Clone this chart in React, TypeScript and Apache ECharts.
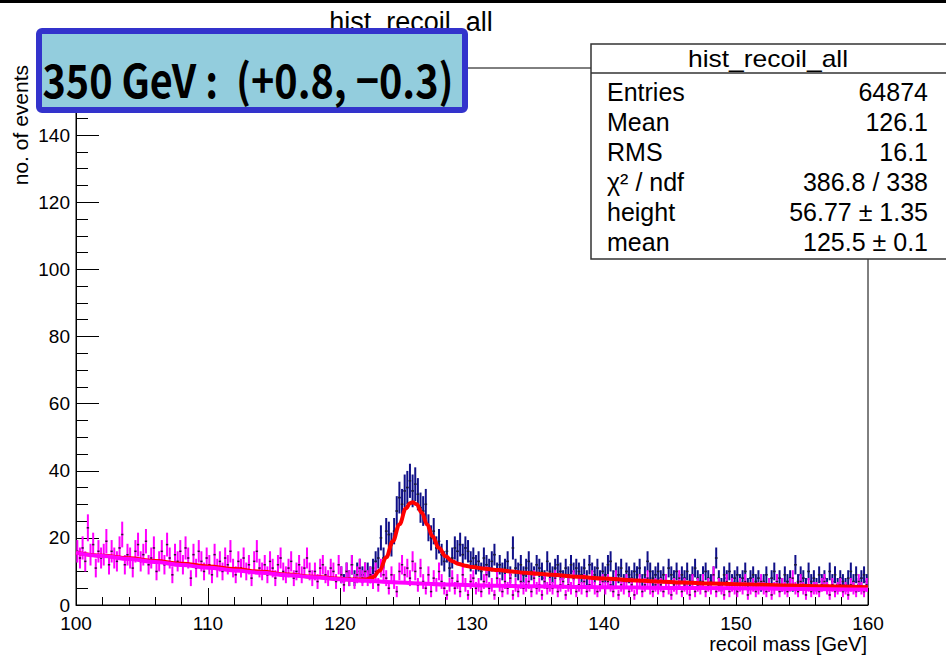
import React, { useEffect, useRef } from "react";
import * as echarts from "echarts";

// ---- histogram binning ----
const BIN_LO = 100;
const BIN_W = 0.2;
const ERR_SCALE = 0.7; // weighted entries: variance = N * w

// background-only histogram (magenta), 100 - 160 GeV, 0.2 GeV bins
const BKG_COUNTS = [
  16, 14, 17, 13, 23, 15, 18, 11, 16, 14,
  15, 19, 12, 16, 14, 13, 17, 21, 12, 15,
  14, 11, 16, 18, 13, 15, 19, 12, 14, 17,
  10, 13, 16, 12, 18, 14, 9, 15, 13, 16,
  12, 17, 14, 8, 15, 11, 16, 13, 10, 14,
  12, 9, 15, 11, 13, 10, 14, 12, 16, 11,
  9, 13, 11, 14, 10, 12, 8, 13, 16, 11,
  10, 12, 9, 13, 11, 8, 12, 14, 10, 9,
  11, 13, 8, 10, 12, 9, 11, 14, 10, 8,
  10, 7, 11, 12, 9, 8, 11, 10, 7, 12,
  9, 6, 10, 8, 12, 7, 9, 11, 8, 10,
  8, 9, 7, 10, 6, 11, 9, 8, 5, 9,
  7, 4, 10, 12, 9, 11, 8, 13, 10, 6,
  11, 7, 5, 9, 4, 8, 6, 10, 7, 5,
  3, 6, 8, 5, 7, 4, 9, 6, 3, 7,
  8, 5, 6, 4, 7, 9, 5, 6, 3, 8,
  6, 4, 7, 5, 8, 3, 6, 4, 7, 5,
  6, 7, 4, 8, 5, 6, 3, 7, 5, 6,
  5, 8, 4, 6, 7, 3, 6, 5, 8, 4,
  6, 5, 7, 4, 6, 8, 5, 4, 6, 7,
  5, 7, 6, 4, 8, 3, 6, 5, 7, 4,
  6, 3, 5, 7, 4, 6, 8, 5, 4, 6,
  5, 6, 4, 7, 5, 3, 6, 5, 8, 4,
  6, 5, 3, 7, 4, 6, 5, 7, 4, 6,
  5, 9, 4, 6, 5, 3, 7, 4, 6, 5,
  4, 6, 5, 7, 3, 5, 6, 4, 5, 7,
  5, 4, 6, 3, 5, 7, 4, 6, 5, 4,
  6, 8, 5, 4, 7, 5, 3, 6, 4, 5,
  5, 4, 6, 7, 5, 3, 6, 4, 5, 6,
  4, 5, 3, 6, 5, 4, 7, 5, 4, 6,
];

// full histogram (navy), shown from 120 GeV (below it coincides with background)
const ALL_LO = 120;
const ALL_COUNTS = [
  9, 7, 10, 8, 12, 8, 10, 11, 9, 10,
  10, 9, 11, 13, 14, 20, 14, 22, 21, 18,
  22, 28, 32, 30, 34, 35, 37, 34, 36, 33,
  29, 28, 30, 23, 20, 22, 17, 19, 15, 13,
  16, 11, 14, 17, 16, 18, 15, 17, 16, 13,
  14, 12, 13, 10, 14, 12, 11, 13, 15, 10,
  12, 10, 11, 13, 9, 17, 11, 10, 12, 9,
  11, 13, 10, 9, 12, 11, 10, 8, 13, 10,
  9, 11, 12, 10, 8, 11, 9, 12, 10, 11,
  10, 9, 11, 8, 12, 10, 9, 11, 8, 10,
  9, 12, 13, 8, 10, 9, 11, 7, 10, 9,
  8, 10, 9, 11, 7, 9, 13, 10, 8, 9,
  10, 8, 9, 7, 11, 9, 8, 10, 7, 9,
  8, 10, 7, 9, 11, 8, 7, 9, 10, 8,
  7, 9, 14, 8, 6, 9, 8, 10, 7, 8,
  9, 7, 8, 10, 6, 8, 9, 7, 8, 6,
  7, 9, 6, 8, 10, 7, 8, 6, 9, 7,
  8, 6, 12, 7, 9, 8, 6, 10, 7, 8,
  6, 9, 7, 8, 6, 10, 7, 9, 6, 8,
  7, 6, 8, 10, 7, 9, 6, 8, 9, 7,
];

// total fit (red)
const FIT_X = [100, 102, 104, 106, 108, 110, 112, 114, 116, 118, 120, 121, 122, 122.5, 123, 123.5, 124, 124.5, 125, 125.3, 125.5, 125.8, 126.2, 126.6, 127, 127.5, 128, 128.5, 129, 129.5, 130, 131, 132, 133, 134, 135, 136, 138, 140, 142, 144, 146, 148, 150, 152, 154, 156, 158, 160];
const FIT_TOTAL = [15.6, 14.7, 13.9, 13.1, 12.3, 11.5, 10.7, 9.9, 9.1, 8.4, 7.8, 7.6, 7.6, 8.3, 10.2, 14.2, 19.0, 24.0, 28.8, 30.3, 30.6, 30.0, 27.5, 24.0, 20.5, 17.0, 14.5, 13.0, 12.2, 11.7, 11.3, 10.8, 10.4, 10.0, 9.6, 9.3, 9.0, 8.4, 7.9, 7.4, 7.0, 6.7, 6.4, 6.2, 6.0, 5.8, 5.6, 5.5, 5.3];

// background fit (magenta)
const BKG_FIT_X = [100, 102, 104, 106, 108, 110, 112, 114, 116, 118, 120, 122, 124, 126, 128, 130, 132, 134, 136, 138, 140, 145, 150, 155, 160];
const BKG_FIT = [15.6, 14.6, 13.7, 12.8, 11.9, 11.1, 10.3, 9.6, 8.9, 8.3, 7.7, 7.2, 6.8, 6.4, 6.1, 5.9, 5.7, 5.6, 5.5, 5.4, 5.3, 5.1, 5.0, 4.8, 4.6];

const STATS_TITLE = "hist_recoil_all";
const STATS_LABELS = ["Entries", "Mean", "RMS", "χ² / ndf", "height", "mean"];
const STATS_VALUES = ["64874", "126.1", "16.1", "386.8 / 338", "56.77 ± 1.35", "125.5 ± 0.1"];
const BOX_TEXT = "350 GeV :  (+0.8, −0.3)";

const FONT = '"Liberation Sans", Arial, Helvetica, sans-serif';

function histData(lo: number, counts: number[]) {
  return counts.map((n, i) => [lo + (i + 0.5) * BIN_W, n, Math.sqrt(n * ERR_SCALE)]);
}

function errRenderer(color: string) {
  return (params: any, api: any) => {
    const x = api.value(0);
    const y = api.value(1);
    const e = api.value(2);
    const top = api.coord([x, y + e]);
    const bot = api.coord([x, y - e]);
    const l = api.coord([x - BIN_W / 2, y]);
    const r = api.coord([x + BIN_W / 2, y]);
    const c = api.coord([x, y]);
    return {
      type: "group",
      children: [
        { type: "line", shape: { x1: top[0], y1: top[1], x2: bot[0], y2: bot[1] }, style: { stroke: color, lineWidth: 2 } },
        { type: "line", shape: { x1: l[0], y1: l[1], x2: r[0], y2: r[1] }, style: { stroke: color, lineWidth: 1.5 } },
        { type: "rect", shape: { x: c[0] - 1, y: c[1] - 0.75, width: 2, height: 1.5 }, style: { fill: "#222" } },
      ],
    };
  };
}

function txt(x: number, y: number, text: string, size: number, align: string, extra: any = {}) {
  return {
    type: "text",
    x,
    y,
    z: 120,
    ...extra,
    style: {
      text,
      fontSize: size,
      fontFamily: FONT,
      fill: "#000",
      align,
      textAlign: align,
      verticalAlign: "middle",
      textVerticalAlign: "middle",
      ...(extra.style || {}),
    },
  };
}

export default function App() {
  const ref = useRef<HTMLDivElement>(null);
  useEffect(() => {
    if (!ref.current) return;
    const chart = echarts.init(ref.current, undefined, { renderer: "svg" });

    const statsRows: any[] = [];
    STATS_LABELS.forEach((lab, i) => {
      statsRows.push(txt(607, 92 + 30 * i, lab, 25, "left"));
      statsRows.push(txt(928, 92 + 30 * i, STATS_VALUES[i], 25, "right"));
    });

    chart.setOption({
      animation: false,
      backgroundColor: "#fff",
      grid: { left: 76, right: 78, top: 68, bottom: 50, show: true, borderColor: "#000", borderWidth: 1, backgroundColor: "transparent" },
      xAxis: {
        type: "value",
        min: 100,
        max: 160,
        interval: 10,
        axisLine: { show: true, lineStyle: { color: "#000", width: 1 } },
        axisTick: { show: true, inside: true, length: 17, lineStyle: { color: "#000", width: 1 } },
        minorTick: { show: true, splitNumber: 5, length: 8, lineStyle: { color: "#000", width: 1 } },
        splitLine: { show: false },
        axisLabel: { fontSize: 19, lineHeight: 17, fontFamily: FONT, color: "#000", margin: 10 },
      },
      yAxis: {
        type: "value",
        min: 0,
        max: 160,
        interval: 20,
        axisLine: { show: true, lineStyle: { color: "#000", width: 1 } },
        axisTick: { show: true, inside: true, length: 23, lineStyle: { color: "#000", width: 1 } },
        minorTick: { show: true, splitNumber: 4, length: 12, lineStyle: { color: "#000", width: 1 } },
        splitLine: { show: false },
        axisLabel: { fontSize: 19, lineHeight: 17, fontFamily: FONT, color: "#000", margin: 6 },
      },
      series: [
        {
          type: "custom",
          name: "all",
          clip: true,
          renderItem: errRenderer("#101088"),
          data: histData(ALL_LO, ALL_COUNTS),
          z: 2,
        },
        {
          type: "custom",
          name: "background",
          clip: true,
          renderItem: errRenderer("#ff00ff"),
          data: histData(BIN_LO, BKG_COUNTS),
          z: 3,
        },
        {
          type: "line",
          name: "fit total",
          data: FIT_X.map((x, i) => [x, FIT_TOTAL[i]]),
          showSymbol: false,
          smooth: 0.4,
          smoothMonotone: "x",
          lineStyle: { color: "#ff0000", width: 4 },
          z: 4,
        },
        {
          type: "line",
          name: "fit background",
          data: BKG_FIT_X.map((x, i) => [x, BKG_FIT[i]]),
          showSymbol: false,
          smooth: 0.4,
          smoothMonotone: "x",
          lineStyle: { color: "#ff00ff", width: 4 },
          z: 5,
        },
      ],
      graphic: [
        { type: "rect", z: 100, shape: { x: 0, y: 0, width: 946, height: 3 }, style: { fill: "#000" } },
        txt(411, 22, STATS_TITLE, 27, "center", { z: 101 }),
        { type: "rect", z: 110, shape: { x: 591, y: 44, width: 360, height: 215 }, style: { fill: "#fff", stroke: "#333", lineWidth: 1.5 } },
        { type: "line", z: 111, shape: { x1: 591, y1: 73, x2: 946, y2: 73 }, style: { stroke: "#333", lineWidth: 1.5 } },
        txt(768, 59, STATS_TITLE, 23, "center", { scaleX: 1.15 }),
        ...statsRows,
        { type: "rect", z: 130, shape: { x: 39, y: 31, width: 426, height: 79, r: 3 }, style: { fill: "#93CDDD", stroke: "#3333CC", lineWidth: 6 } },
        {
          type: "text",
          x: 248,
          y: 78,
          z: 131,
          scaleX: 0.86,
          style: {
            text: BOX_TEXT,
            fontSize: 46,
            fontWeight: "bold",
            fontFamily: '"Noto Sans CJK JP", "Noto Sans", sans-serif',
            fill: "#000",
            align: "center",
            textAlign: "center",
            verticalAlign: "middle",
            textVerticalAlign: "middle",
          },
        },
        txt(20, 65, "no. of events", 21, "right", { rotation: Math.PI / 2 }),
        txt(867, 644, "recoil mass [GeV]", 20, "right"),
      ],
    });
    return () => chart.dispose();
  }, []);
  return <div ref={ref} style={{ position: "absolute", left: 0, top: 0, width: 946, height: 655 }} />;
}
